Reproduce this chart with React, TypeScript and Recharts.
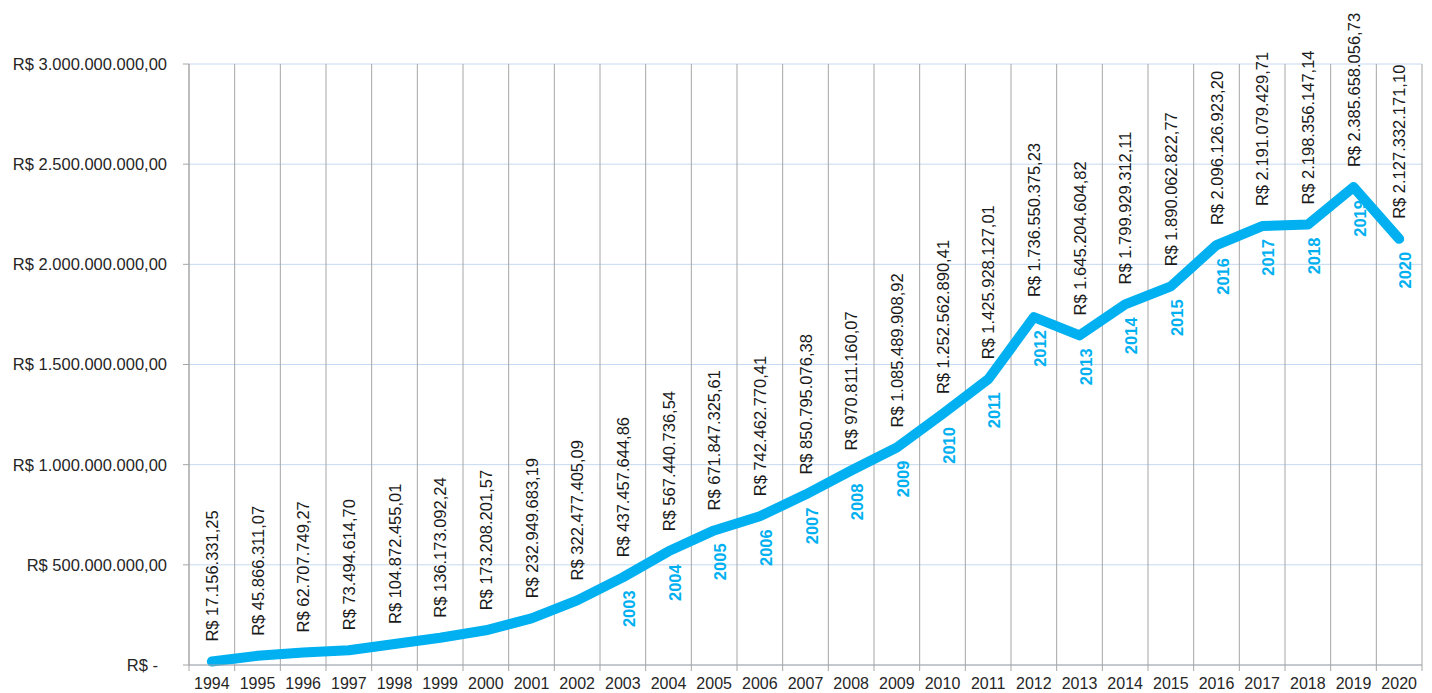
import React from 'react';
import { LineChart, Line, XAxis, YAxis, CartesianGrid, ReferenceLine, LabelList } from 'recharts';

const years = [
  1994, 1995, 1996, 1997, 1998, 1999, 2000, 2001, 2002, 2003, 2004, 2005, 2006, 2007,
  2008, 2009, 2010, 2011, 2012, 2013, 2014, 2015, 2016, 2017, 2018, 2019, 2020,
];

const values = [
  17156331.25, 45866311.07, 62707749.27, 73494614.7, 104872455.01, 136173092.24,
  173208201.57, 232949683.19, 322477405.09, 437457644.86, 567440736.54, 671847325.61,
  742462770.41, 850795076.38, 970811160.07, 1085489908.92, 1252562890.41, 1425928127.01,
  1736550375.23, 1645204604.82, 1799929312.11, 1890062822.77, 2096126923.2, 2191079429.71,
  2198356147.14, 2385658056.73, 2127332171.1,
];

const yTicks = [0, 500000000, 1000000000, 1500000000, 2000000000, 2500000000, 3000000000];
const firstYearWithLabel = 2003;

const data = years.map((year, i) => ({ idx: i, year, value: values[i] }));
const boundaries = Array.from({ length: years.length + 1 }, (_, i) => i - 0.5);
const xTicks = [...boundaries, ...years.map((_, i) => i)].sort((a, b) => a - b);

const FONT = '"Liberation Sans", Arial, Helvetica, sans-serif';
const BLUE = '#00b0f0';
const GRAY = '#a6a6a6';

function fmtBRL(v: number): string {
  if (v === 0) return 'R$ -';
  const [intPart, dec] = v.toFixed(2).split('.');
  const grouped = intPart.replace(/\B(?=(\d{3})+(?!\d))/g, '.');
  return `R$ ${grouped},${dec}`;
}

const YTick = (props: any) => {
  const { x, y, payload } = props;
  const isZero = payload.value === 0;
  return (
    <text
      x={x - (isZero ? 9 : 0)}
      y={y}
      dy="0.36em"
      textAnchor="end"
      fontSize={16.5}
      fontFamily={FONT}
      fill="#262626"
    >
      {fmtBRL(payload.value)}
    </text>
  );
};

const XTick = (props: any) => {
  const { x, y, payload } = props;
  const v = payload.value as number;
  if (!Number.isInteger(v)) {
    return <line x1={x} x2={x} y1={y} y2={y + 6} stroke={GRAY} strokeWidth={1} />;
  }
  return (
    <text x={x} y={y + 24} textAnchor="middle" fontSize={16} fontFamily={FONT} fill="#262626">
      {years[v]}
    </text>
  );
};

const ValueLabel = (props: any) => {
  const { x, y, value } = props;
  if (x == null || y == null) return null;
  return (
    <text
      transform={`translate(${x + 6}, ${y - 20}) rotate(-90)`}
      textAnchor="start"
      fontSize={16.5}
      fontFamily={FONT}
      fill="#1a1a1a"
    >
      {fmtBRL(value)}
    </text>
  );
};

const YearLabel = (props: any) => {
  const { x, y, value } = props;
  if (x == null || y == null || value < firstYearWithLabel) return null;
  return (
    <text
      transform={`translate(${x + 12}, ${y + 13}) rotate(-90)`}
      textAnchor="end"
      fontSize={16.5}
      fontWeight="bold"
      fontFamily={FONT}
      fill={BLUE}
    >
      {value}
    </text>
  );
};

export default function App() {
  return (
    <div style={{ position: 'absolute', left: 0, top: 0, background: '#fff' }}>
      <LineChart
        width={1432}
        height={693}
        data={data}
        margin={{ top: 64, right: 10, bottom: 0, left: 0 }}
      >
        <CartesianGrid vertical={false} stroke="#c6d9f1" strokeWidth={1} />
        {boundaries.map((b) => (
          <ReferenceLine key={b} x={b} stroke={GRAY} strokeWidth={1} ifOverflow="visible" />
        ))}
        <XAxis
          type="number"
          dataKey="idx"
          domain={[-0.5, years.length - 0.5]}
          ticks={xTicks}
          interval={0}
          tickLine={false}
          tickSize={0}
          tickMargin={0}
          axisLine={{ stroke: GRAY }}
          height={28}
          tick={<XTick />}
        />
        <YAxis
          type="number"
          domain={[0, 3000000000]}
          ticks={yTicks}
          interval={0}
          width={189}
          tickSize={6}
          tickMargin={16}
          tickLine={{ stroke: GRAY }}
          axisLine={{ stroke: GRAY }}
          tick={<YTick />}
        />
        <Line
          type="linear"
          dataKey="value"
          stroke={BLUE}
          strokeWidth={10}
          strokeLinecap="round"
          strokeLinejoin="round"
          dot={false}
          activeDot={false}
          isAnimationActive={false}
        >
          <LabelList dataKey="value" content={<ValueLabel />} />
          <LabelList dataKey="year" content={<YearLabel />} />
        </Line>
      </LineChart>
    </div>
  );
}
